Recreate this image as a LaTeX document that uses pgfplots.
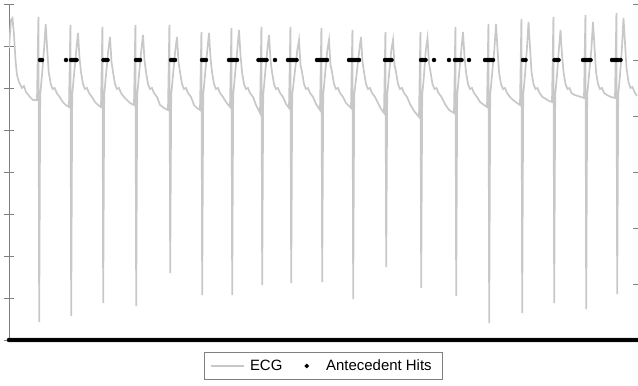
\documentclass[border=0pt]{standalone}
\usepackage{pgfplots}
\pgfplotsset{compat=1.18}
\usepackage{fontspec}
\setmainfont{Liberation Sans}
\definecolor{ecg}{RGB}{200,200,200}
\definecolor{axgray}{RGB}{128,128,128}
\begin{document}
\begin{tikzpicture}
\begin{axis}[
  scale only axis, width=629bp, height=336bp,
  xmin=9, xmax=638, ymin=0, ymax=336,
  axis x line=none, axis y line*=left,
  y axis line style={axgray, line width=0.8bp},
  ytick={0,42,...,336}, yticklabels={},
  tick align=center, major tick length=10bp,
  ytick style={axgray, line width=0.8bp},
]
\addplot[ecg, line width=1.7bp] coordinates {
(9,292) (11,320) (12.5,322) (14,305) (15.5,280) (17,265) (19,258) (22,252) (24,254) (26,248) (30,243) (33,240) (37,240)
(38.4,323) (39.2,18) (40.2,245) (42,265) (44,290) (45.7,316) (47.2,291) (48.7,268) (50.7,256) (52.7,251) (54.7,252) (56.7,247) (59.7,243) (62.7,238) (65.7,235) (69,233)
(70.4,315) (71.2,24) (72.2,245) (74,265) (76.3,290) (78,307) (79.5,282) (81,268) (83,256) (85,251) (87,252) (89,247) (92,243) (95,238) (98,235) (101,233)
(102.4,313) (103.2,37) (104.2,245) (106,265) (108.3,290) (110,303) (111.5,278) (113,268) (115,256) (117,251) (119,252) (121,247) (124,243) (127,240) (130,237) (134,235)
(135.4,315) (136.2,34) (137.2,245) (139,265) (141.3,290) (143,305) (144.5,280) (146,268) (148,256) (150,251) (152,252) (154,247) (157,243) (160,235) (164,232) (168,230)
(169.4,315) (170.2,67) (171.2,245) (173,265) (175.3,290) (177,303) (178.5,278) (180,268) (182,256) (184,251) (186,252) (188,247) (191,243) (194,235) (197,232) (200,230)
(201.4,308) (202.2,45) (203.2,245) (205,265) (207.3,290) (209,307) (210.5,282) (212,268) (214,256) (216,251) (218,252) (220,247) (223,243) (226,238) (230,233)
(231.4,312) (232.2,45) (233.2,245) (235,265) (237.3,290) (239,310) (240.5,285) (242,268) (244,256) (246,251) (248,252) (250,247) (253,243) (256,235) (260,227)
(261.4,313) (262.2,55) (263.2,245) (265,265) (267.3,290) (269,305) (270.5,280) (272,268) (274,256) (276,251) (278,252) (280,247) (283,243) (286,236) (289,232)
(290.4,313) (291.2,57) (292.2,245) (294.5,265) (297.3,290) (299,300) (300.5,275) (302,268) (304,256) (306,251) (308,252) (310,247) (313,243) (316,236) (320,230)
(321.4,312) (322.2,58) (323.2,245) (325,265) (327.3,290) (329,300) (330.5,275) (332,268) (334,256) (336,251) (338,252) (340,247) (343,243) (346,237) (351,232)
(352.4,310) (353.2,41) (354.2,245) (356.5,265) (359.3,290) (361,303) (362.5,278) (364,268) (366,256) (368,251) (370,252) (372,247) (375,243) (378,237) (381,231) (384,227)
(385.4,308) (386.2,73) (387.2,245) (389,265) (391.3,290) (393,300) (394.5,275) (396,268) (398,256) (400,251) (402,252) (404,247) (407,243) (410,236) (414,229) (419,223)
(420.4,308) (421.2,52) (422.2,245) (424,265) (425.8,290) (427.5,302) (429,277) (430.5,268) (432.5,256) (434.5,251) (436.5,252) (438.5,247) (441.5,243) (445,236) (449,230) (454,227)
(455.4,313) (456.2,44) (457.2,245) (459,265) (461.3,290) (463,308) (464.5,283) (466,268) (468,256) (470,251) (472,252) (474,247) (477,243) (480,238) (484,235) (487,233)
(488.4,316) (489.2,17) (490.2,245) (492,265) (494.3,290) (496,316) (497.5,291) (499,268) (501,256) (503,251) (505,252) (507,247) (510,243) (513,240) (517,237) (520,235)
(521.4,321) (522.2,27) (523.2,245) (525,265) (526.8,290) (528.5,318) (530,293) (531.5,268) (533.5,256) (535.5,251) (537.5,252) (539.5,247) (542.5,243) (546,241) (549,239) (552,238)
(553.4,323) (554.2,37) (555.2,245) (557,265) (558.8,290) (560.5,310) (562,285) (563.5,268) (565.5,256) (567.5,251) (569.5,252) (571.5,247) (574.5,245) (578,244) (581,243) (584,242)
(585.4,325) (586.2,31) (587.2,245) (589,265) (591.3,290) (593,318) (594.5,293) (596,268) (598,256) (600,251) (602,252) (604,247) (607,245) (611,243) (615,242)
(616.4,327) (617.2,46) (618.2,245) (620,265) (621.8,290) (623.5,322) (625,297) (626.5,272) (628.5,258) (630.5,252) (632.5,253) (634.5,248) (637,244)
};
\end{axis}
\begin{axis}[
  scale only axis, width=629bp, height=336bp,
  xmin=9, xmax=638, ymin=0, ymax=6,
  axis x line=none, axis y line*=right,
  y axis line style={draw=none},
  ytick={0,...,6}, yticklabels={},
  tick align=inside, major tick length=5bp,
  ytick style={axgray, line width=0.8bp},
  legend columns=2,
  legend style={at={(0.5,-0.0357)}, anchor=north, draw=axgray, line width=0.8bp,
    font=\fontsize{15}{18}\selectfont, inner xsep=6bp, inner ysep=5.5bp,
    nodes={inner xsep=5bp, inner ysep=2bp},
    /tikz/every even column/.append style={column sep=13bp}},
]
\addlegendimage{legend image code/.code={\draw[ecg, line width=1.7bp] (0bp,0bp) -- (33bp,0bp);}}
\addlegendentry{ECG}
\addplot[only marks, mark=*, mark size=2bp, black,
  legend image code/.code={\path (0bp,0bp) (20bp,0bp); \fill[black] (6bp,0bp) circle (1.8bp);}] coordinates {
(9,0) (11,0) (13,0) (15,0) (17,0) (19,0) (21,0) (23,0) (25,0) (27,0) (29,0) (31,0) (33,0) (35,0) (37,0) (39,0) (41,0) (43,0) (45,0) (47,0)
(49,0) (51,0) (53,0) (55,0) (57,0) (59,0) (61,0) (63,0) (65,0) (67,0) (69,0) (71,0) (73,0) (75,0) (77,0) (79,0) (81,0) (83,0) (85,0) (87,0)
(89,0) (91,0) (93,0) (95,0) (97,0) (99,0) (101,0) (103,0) (105,0) (107,0) (109,0) (111,0) (113,0) (115,0) (117,0) (119,0) (121,0) (123,0) (125,0) (127,0)
(129,0) (131,0) (133,0) (135,0) (137,0) (139,0) (141,0) (143,0) (145,0) (147,0) (149,0) (151,0) (153,0) (155,0) (157,0) (159,0) (161,0) (163,0) (165,0) (167,0)
(169,0) (171,0) (173,0) (175,0) (177,0) (179,0) (181,0) (183,0) (185,0) (187,0) (189,0) (191,0) (193,0) (195,0) (197,0) (199,0) (201,0) (203,0) (205,0) (207,0)
(209,0) (211,0) (213,0) (215,0) (217,0) (219,0) (221,0) (223,0) (225,0) (227,0) (229,0) (231,0) (233,0) (235,0) (237,0) (239,0) (241,0) (243,0) (245,0) (247,0)
(249,0) (251,0) (253,0) (255,0) (257,0) (259,0) (261,0) (263,0) (265,0) (267,0) (269,0) (271,0) (273,0) (275,0) (277,0) (279,0) (281,0) (283,0) (285,0) (287,0)
(289,0) (291,0) (293,0) (295,0) (297,0) (299,0) (301,0) (303,0) (305,0) (307,0) (309,0) (311,0) (313,0) (315,0) (317,0) (319,0) (321,0) (323,0) (325,0) (327,0)
(329,0) (331,0) (333,0) (335,0) (337,0) (339,0) (341,0) (343,0) (345,0) (347,0) (349,0) (351,0) (353,0) (355,0) (357,0) (359,0) (361,0) (363,0) (365,0) (367,0)
(369,0) (371,0) (373,0) (375,0) (377,0) (379,0) (381,0) (383,0) (385,0) (387,0) (389,0) (391,0) (393,0) (395,0) (397,0) (399,0) (401,0) (403,0) (405,0) (407,0)
(409,0) (411,0) (413,0) (415,0) (417,0) (419,0) (421,0) (423,0) (425,0) (427,0) (429,0) (431,0) (433,0) (435,0) (437,0) (439,0) (441,0) (443,0) (445,0) (447,0)
(449,0) (451,0) (453,0) (455,0) (457,0) (459,0) (461,0) (463,0) (465,0) (467,0) (469,0) (471,0) (473,0) (475,0) (477,0) (479,0) (481,0) (483,0) (485,0) (487,0)
(489,0) (491,0) (493,0) (495,0) (497,0) (499,0) (501,0) (503,0) (505,0) (507,0) (509,0) (511,0) (513,0) (515,0) (517,0) (519,0) (521,0) (523,0) (525,0) (527,0)
(529,0) (531,0) (533,0) (535,0) (537,0) (539,0) (541,0) (543,0) (545,0) (547,0) (549,0) (551,0) (553,0) (555,0) (557,0) (559,0) (561,0) (563,0) (565,0) (567,0)
(569,0) (571,0) (573,0) (575,0) (577,0) (579,0) (581,0) (583,0) (585,0) (587,0) (589,0) (591,0) (593,0) (595,0) (597,0) (599,0) (601,0) (603,0) (605,0) (607,0)
(609,0) (611,0) (613,0) (615,0) (617,0) (619,0) (621,0) (623,0) (625,0) (627,0) (629,0) (631,0) (633,0) (635,0) (637,0)
(40,5) (42,5) (66,5) (71,5) (73,5) (75,5) (76.5,5) (103.5,5) (105.5,5) (107.5,5)
(136,5) (138,5) (140,5) (171,5) (173,5) (175,5) (202,5) (204,5) (206,5)
(229,5) (231,5) (233,5) (235,5) (237,5) (258.5,5) (260.5,5) (262.5,5) (264.5,5) (266.5,5) (275,5)
(288,5) (290,5) (292,5) (294,5) (296.5,5) (317,5) (319,5) (321,5) (323,5) (325,5) (327,5)
(349,5) (351,5) (353,5) (355,5) (357,5) (359,5) (385,5) (387,5) (389,5) (391.5,5)
(421,5) (423,5) (425.5,5) (434,5) (449,5) (455,5) (457,5) (459,5) (461.5,5) (469,5)
(485,5) (487,5) (489,5) (491,5) (493,5) (523,5) (525.5,5) (554.5,5) (556.5,5) (558.5,5)
(583,5) (585,5) (587,5) (589,5) (590.5,5) (612,5) (614,5) (616,5) (618,5) (620.5,5)
};
\addlegendentry{Antecedent Hits}
\end{axis}
\pgfresetboundingbox
\path[use as bounding box] (-9bp,-46bp) rectangle (629bp,340bp);
\end{tikzpicture}
\end{document}
